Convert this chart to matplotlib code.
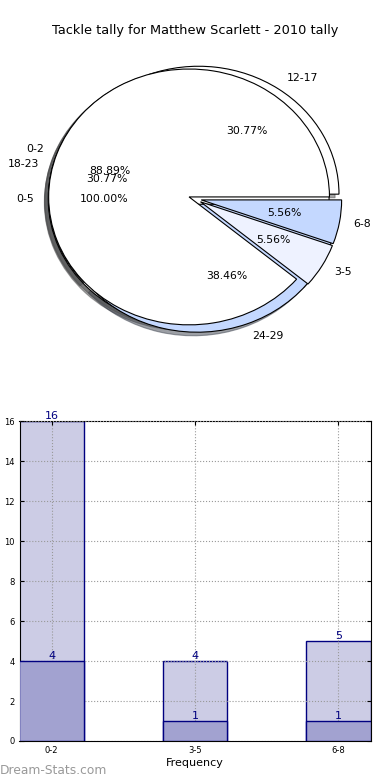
import matplotlib
matplotlib.use("Agg")
import matplotlib.pyplot as plt

# Pie data (three overlaid pies, counts)
pie_a_labels = ["0-5"]
pie_a_values = [5]
pie_b_labels = ["0-2", "3-5", "6-8"]
pie_b_values = [16, 1, 1]
pie_c_labels = ["12-17", "18-23", "24-29"]
pie_c_values = [4, 4, 5]

# Bar data
bar_categories = ["0-2", "3-5", "6-8"]
bar_totals = [16, 4, 5]
bar_front = [4, 1, 1]

title = "Tackle tally for Matthew Scarlett - 2010 tally"
pie_colors = ["white", "#EEF2FF", "#C4D8FF"]

fig = plt.figure(figsize=(3.9, 7.8), dpi=100)

ax1 = fig.add_axes([0.05, 0.54, 0.9, 0.41])
explode = 0.045
for labels, vals in [(pie_a_labels, pie_a_values),
                     (pie_c_labels, pie_c_values),
                     (pie_b_labels, pie_b_values)]:
    wedges, texts, autotexts = ax1.pie(
        vals, labels=labels, colors=pie_colors[:len(vals)],
        explode=[explode] * len(vals), autopct="%1.2f%%", shadow=True,
        startangle=0, labeldistance=1.1, pctdistance=0.6,
        wedgeprops=dict(edgecolor="black", linewidth=0.8),
        textprops=dict(fontsize=7.8))
ax1.set_aspect("auto")
ax1.set_xlim(-1.25, 1.25)
ax1.set_ylim(-1.25, 1.25)
ax1.axis("off")
fig.text(0.5, 0.961, title, ha="center", va="center", fontsize=9.3)

ax2 = fig.add_axes([0.05, 0.05, 0.9, 0.41])
x = list(range(len(bar_categories)))
w = 0.45
ax2.bar(x, bar_totals, width=w, color="#CCCCE5", edgecolor="#000080", linewidth=1, zorder=2)
ax2.bar(x, bar_front, width=w, color="#A2A2D0", edgecolor="#000080", linewidth=1, zorder=3)
for xi, v in zip(x, bar_totals):
    ax2.text(xi, v, str(v), ha="center", va="bottom", color="#000080", fontsize=8, zorder=5)
for xi, v in zip(x, bar_front):
    ax2.text(xi, v, str(v), ha="center", va="bottom", color="#000080", fontsize=8, zorder=5)
ax2.set_xlim(-w / 2, 2 + w / 2)
ax2.set_ylim(0, 16)
ax2.set_yticks(range(0, 17, 2))
ax2.set_xticks(x)
ax2.set_xticklabels(bar_categories)
ax2.tick_params(axis="both", labelsize=6, direction="in", top=True, right=True, length=3)
ax2.grid(True, linestyle=":", color="#999999", linewidth=0.8, zorder=4)
ax2.set_axisbelow(False)
ax2.set_xlabel("Frequency", fontsize=8, labelpad=2)
ax2.set_ylabel("Stat Interval", fontsize=8, labelpad=2)
fig.text(0.0, 0.012, "Dream-Stats.com", ha="left", va="center", fontsize=8.8,
         color="#999999")

fig.savefig("out.png", dpi=100)
